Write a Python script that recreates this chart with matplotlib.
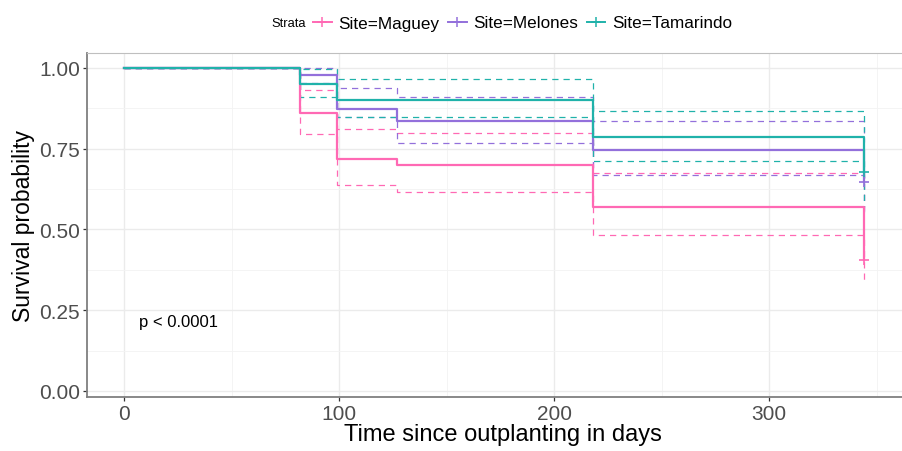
import matplotlib
matplotlib.use("Agg")
import matplotlib.pyplot as plt
from matplotlib.lines import Line2D
from matplotlib.ticker import MultipleLocator

plt.rcParams['font.family'] = ['Liberation Sans', 'DejaVu Sans']

# Kaplan-Meier estimates per site (event times in days)
times = [0, 82, 99, 127, 218, 344]

maguey_surv = [1.0, 0.860, 0.717, 0.698, 0.570, 0.406]
maguey_upper = [1.0, 0.930, 0.811, 0.797, 0.674, 0.560]
maguey_lower = [1.0, 0.794, 0.639, 0.616, 0.482, 0.338]

melones_surv = [1.0, 0.978, 0.873, 0.836, 0.747, 0.648]
melones_upper = [1.0, 1.0, 0.939, 0.909, 0.835, 0.770]
melones_lower = [1.0, 0.952, 0.847, 0.768, 0.668, 0.545]

tamarindo_surv = [1.0, 0.950, 0.902, 0.902, 0.785, 0.677]
tamarindo_upper = [1.0, 0.995, 0.964, 0.964, 0.868, 0.800]
tamarindo_lower = [1.0, 0.911, 0.847, 0.847, 0.712, 0.570]

strata = ["Site=Maguey", "Site=Melones", "Site=Tamarindo"]
colors = ["#FF69B4", "#9370DB", "#20B2AA"]
pval_text = "p < 0.0001"

series = [
    (maguey_surv, maguey_upper, maguey_lower),
    (melones_surv, melones_upper, melones_lower),
    (tamarindo_surv, tamarindo_upper, tamarindo_lower),
]

fig = plt.figure(figsize=(9.03, 4.52), dpi=100)
ax = fig.add_axes([87 / 903, 1 - 398 / 452, 1 - 87 / 903, (398 - 54) / 452])

# confidence bands
for (s, up, lo), c in zip(series, colors):
    ax.step(times, up, where="post", color=c, lw=0.9, ls=(0, (5, 4)), zorder=2)
    ax.step(times, lo, where="post", color=c, lw=0.9, ls=(0, (5, 4)), zorder=2)

# survival curves with censor marks at the end of follow-up
for (s, up, lo), c in zip(series, colors):
    ax.step(times, s, where="post", color=c, lw=1.6, zorder=3)
    ax.plot([times[-1]], [s[-1]], marker="+", color=c, ms=7, mew=1.2, zorder=4)

ax.set_xlim(-17.2, 362.2)
ax.set_ylim(-0.0186, 1.046)
ax.xaxis.set_major_locator(MultipleLocator(100))
ax.xaxis.set_minor_locator(MultipleLocator(50))
ax.yaxis.set_minor_locator(MultipleLocator(0.125))
ax.set_yticks([0, 0.25, 0.5, 0.75, 1.0])
ax.set_yticklabels(["0.00", "0.25", "0.50", "0.75", "1.00"])

ax.grid(which="major", color="#EBEBEB", lw=1.0, zorder=0)
ax.grid(which="minor", color="#F3F3F3", lw=0.6, zorder=0)
ax.set_axisbelow(True)

for side in ["top", "right"]:
    ax.spines[side].set_color("#BFBFBF")
    ax.spines[side].set_linewidth(0.8)
for side in ["left", "bottom"]:
    ax.spines[side].set_color("#7F7F7F")
    ax.spines[side].set_linewidth(1.3)

ax.tick_params(axis="both", which="major", length=3, width=0.9, color="#333333",
               labelsize=15, labelcolor="#4D4D4D", pad=2)
ax.tick_params(axis="both", which="minor", length=0)

ax.set_xlabel("Time since outplanting in days", fontsize=17, color="black")
ax.xaxis.set_label_coords((503 - 87) / 816, -0.076)
ax.set_ylabel("Survival probability", fontsize=16.5, color="black", labelpad=3)

ax.text(times[-1] / 50, 0.215, pval_text, fontsize=12, ha="left", va="center", color="black")

# legend across the top
handles = [Line2D([], [], color=c, lw=1.4, marker="+", ms=7, mew=1.1) for c in colors]
fig.text(271 / 903, 1 - 24 / 452, "Strata", fontsize=9.3, ha="left", va="center")
fig.legend(handles, strata, loc="center left", bbox_to_anchor=(313 / 903, 1 - 24 / 452),
           ncol=3, frameon=False, fontsize=12.3, handlelength=1.1, handletextpad=0.38,
           columnspacing=0.5, borderpad=0, borderaxespad=0, numpoints=1)

fig.savefig("out.png", dpi=100)
